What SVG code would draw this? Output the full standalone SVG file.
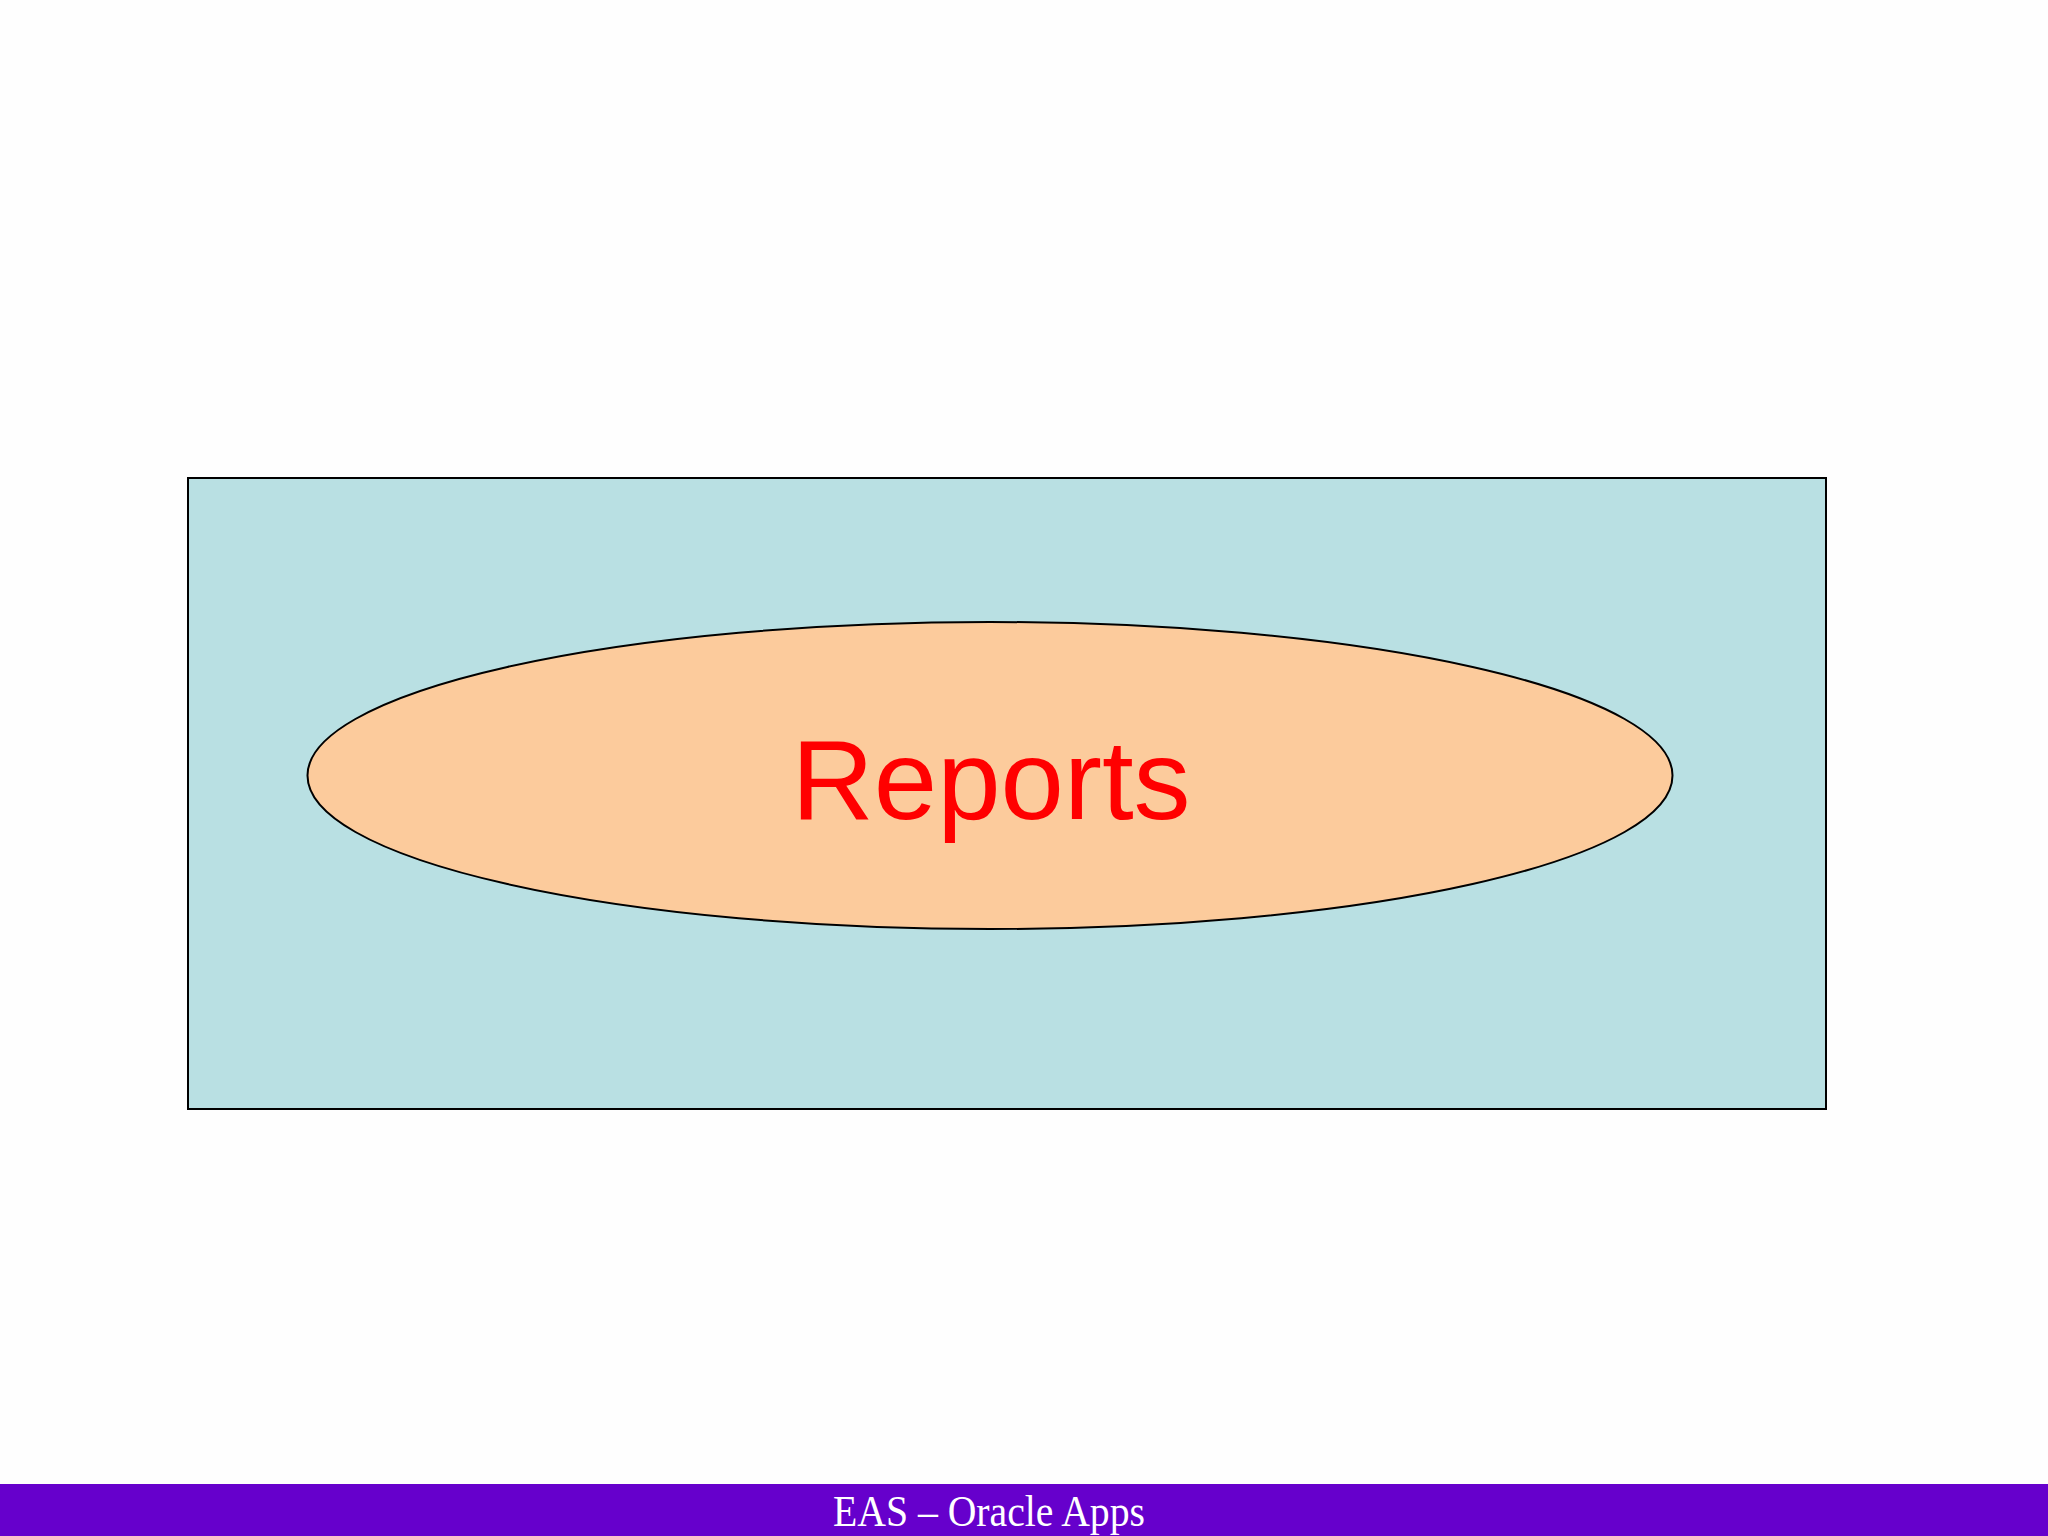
<svg xmlns="http://www.w3.org/2000/svg" width="2048" height="1536" viewBox="0 0 2048 1536">
<style>
.box{fill:#B9E0E3;stroke:#000;stroke-width:2}
.oval{fill:#FCCB9C;stroke:#000;stroke-width:2}
.lbl{font-family:"Liberation Sans",Arial,sans-serif;font-size:114px;fill:#FF0000;text-anchor:middle}
.foot{font-family:"Liberation Serif","Times New Roman",serif;font-size:44px;fill:#FFFFFF;text-anchor:middle}
</style>
<rect x="0" y="0" width="2048" height="1536" fill="#FEFEFE"/>
<g id="container">
<rect class="box" x="188" y="478" width="1638" height="631"/>
</g>
<g id="reports">
<ellipse class="oval" cx="990" cy="775.5" rx="682.5" ry="153.5"/>
<text class="lbl" x="991" y="819">Reports</text>
</g>
<g id="connectors"></g>
<g id="footer">
<rect x="0" y="1484" width="2048" height="52" fill="#6600CC"/>
<text class="foot" x="989" y="1526" textLength="312" lengthAdjust="spacingAndGlyphs">EAS – Oracle Apps</text>
</g>
</svg>
